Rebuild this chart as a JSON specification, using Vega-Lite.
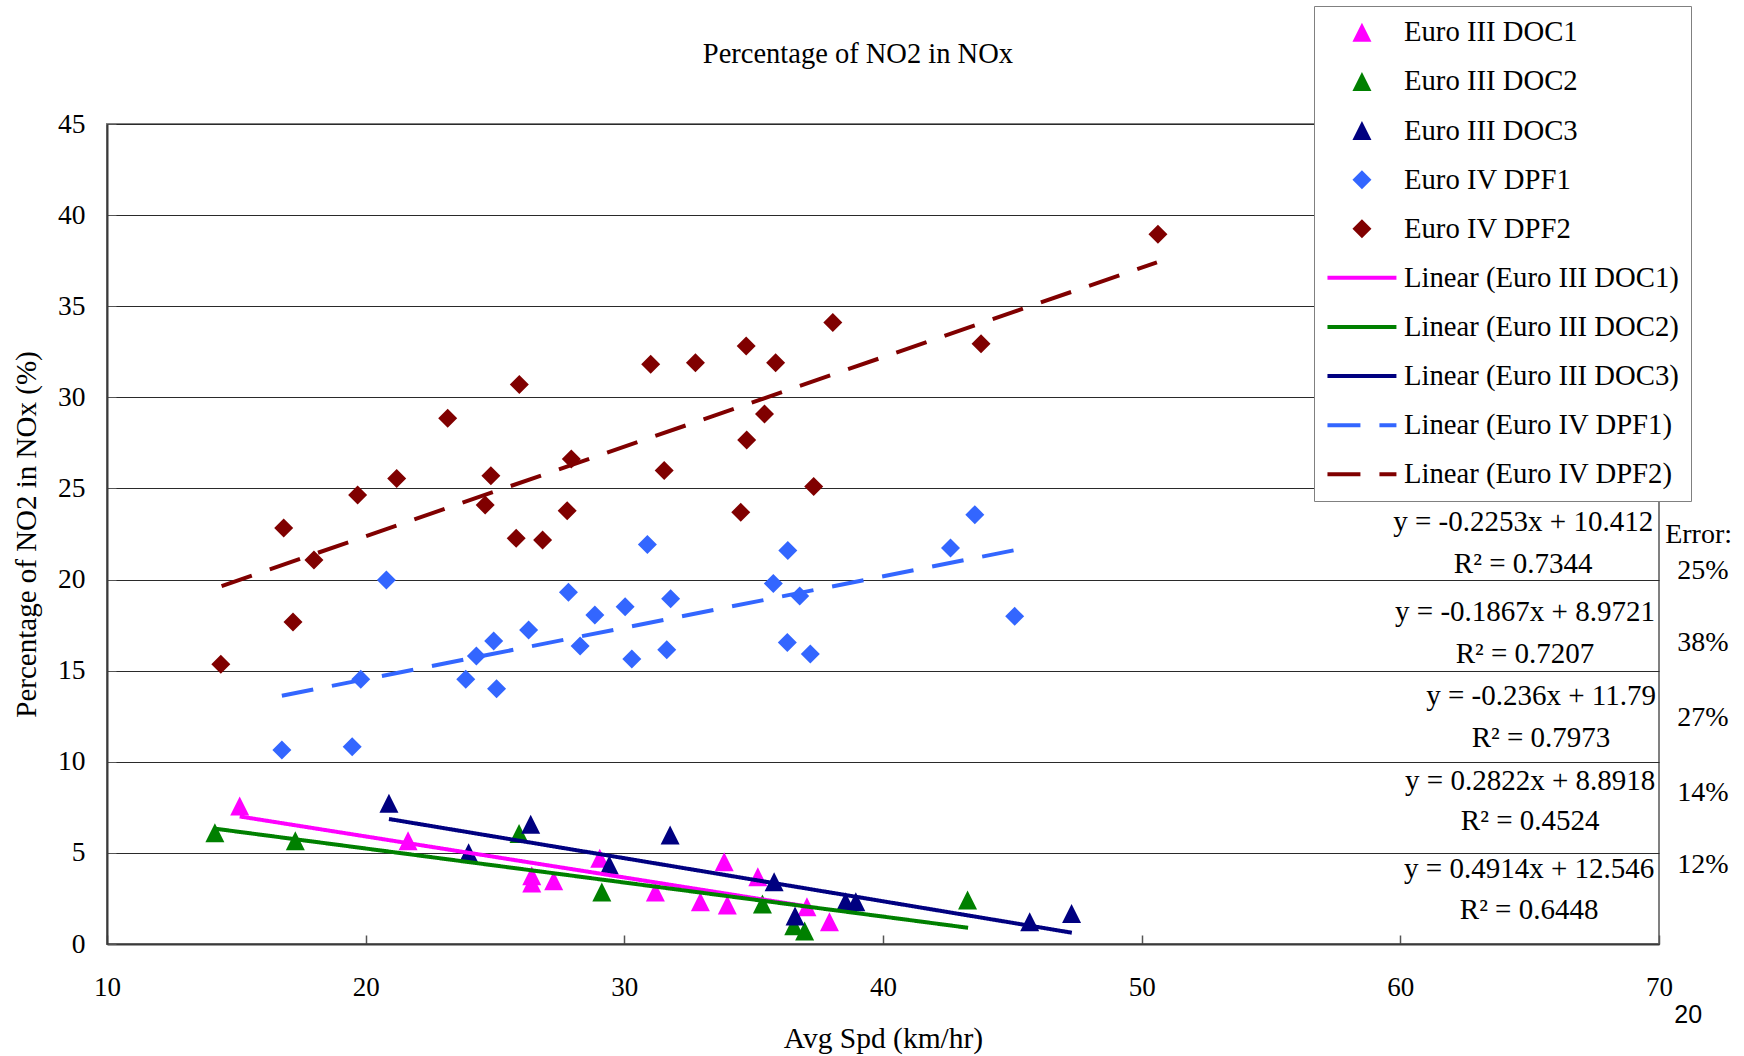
{
  "$schema": "https://vega.github.io/schema/vega-lite/v6.json",
  "width": 1552,
  "height": 820,
  "autosize": {"type": "none"},
  "padding": {"left": 107, "top": 124, "right": 85, "bottom": 112},
  "background": "white",
  "config": {
    "view": {"stroke": "#808080", "strokeWidth": 2},
    "font": "Liberation Serif",
    "legend": {
      "orient": "none",
      "legendX": 1207,
      "legendY": -118,
      "direction": "vertical",
      "fillColor": "white",
      "strokeColor": "#808080",
      "padding": 12,
      "rowPadding": 19.1,
      "labelFont": "Liberation Serif",
      "labelFontSize": 28.7,
      "labelColor": "black",
      "labelLimit": 500,
      "labelOffset": 27.7,
      "symbolOffset": 21.6,
      "symbolSize": 361,
      "symbolStrokeWidth": 0,
      "symbolOpacity": 1
    }
  },
  "datasets": {
    "points": [
      {"series": "Euro III DOC1", "spd": 15.13, "pct": 7.57},
      {"series": "Euro III DOC1", "spd": 21.64, "pct": 5.67},
      {"series": "Euro III DOC1", "spd": 26.42, "pct": 3.75},
      {"series": "Euro III DOC1", "spd": 26.42, "pct": 3.35},
      {"series": "Euro III DOC1", "spd": 27.27, "pct": 3.47},
      {"series": "Euro III DOC1", "spd": 29.05, "pct": 4.7},
      {"series": "Euro III DOC1", "spd": 31.2, "pct": 2.85},
      {"series": "Euro III DOC1", "spd": 32.94, "pct": 2.32},
      {"series": "Euro III DOC1", "spd": 33.86, "pct": 4.52},
      {"series": "Euro III DOC1", "spd": 33.98, "pct": 2.14},
      {"series": "Euro III DOC1", "spd": 35.16, "pct": 3.69},
      {"series": "Euro III DOC1", "spd": 37.06, "pct": 2.05},
      {"series": "Euro III DOC1", "spd": 37.93, "pct": 1.22},
      {"series": "Euro III DOC2", "spd": 14.17, "pct": 6.1},
      {"series": "Euro III DOC2", "spd": 17.28, "pct": 5.67},
      {"series": "Euro III DOC2", "spd": 25.93, "pct": 6.07},
      {"series": "Euro III DOC2", "spd": 29.13, "pct": 2.85},
      {"series": "Euro III DOC2", "spd": 35.34, "pct": 2.2},
      {"series": "Euro III DOC2", "spd": 36.55, "pct": 1.0},
      {"series": "Euro III DOC2", "spd": 36.97, "pct": 0.72},
      {"series": "Euro III DOC2", "spd": 43.27, "pct": 2.41},
      {"series": "Euro III DOC3", "spd": 20.9, "pct": 7.72},
      {"series": "Euro III DOC3", "spd": 23.98, "pct": 5.01},
      {"series": "Euro III DOC3", "spd": 26.38, "pct": 6.57},
      {"series": "Euro III DOC3", "spd": 29.42, "pct": 4.34},
      {"series": "Euro III DOC3", "spd": 31.77, "pct": 5.98},
      {"series": "Euro III DOC3", "spd": 35.79, "pct": 3.42},
      {"series": "Euro III DOC3", "spd": 36.6, "pct": 1.54},
      {"series": "Euro III DOC3", "spd": 38.55, "pct": 2.32},
      {"series": "Euro III DOC3", "spd": 38.95, "pct": 2.32},
      {"series": "Euro III DOC3", "spd": 45.67, "pct": 1.22},
      {"series": "Euro III DOC3", "spd": 47.29, "pct": 1.68},
      {"series": "Euro IV DPF1", "spd": 16.76, "pct": 10.65},
      {"series": "Euro IV DPF1", "spd": 19.48, "pct": 10.83},
      {"series": "Euro IV DPF1", "spd": 19.81, "pct": 14.53},
      {"series": "Euro IV DPF1", "spd": 20.8, "pct": 19.98},
      {"series": "Euro IV DPF1", "spd": 23.87, "pct": 14.53},
      {"series": "Euro IV DPF1", "spd": 24.28, "pct": 15.81},
      {"series": "Euro IV DPF1", "spd": 24.95, "pct": 16.63},
      {"series": "Euro IV DPF1", "spd": 25.06, "pct": 14.01},
      {"series": "Euro IV DPF1", "spd": 26.3, "pct": 17.23},
      {"series": "Euro IV DPF1", "spd": 27.84, "pct": 19.3},
      {"series": "Euro IV DPF1", "spd": 28.29, "pct": 16.35},
      {"series": "Euro IV DPF1", "spd": 28.86, "pct": 18.06},
      {"series": "Euro IV DPF1", "spd": 30.03, "pct": 18.51},
      {"series": "Euro IV DPF1", "spd": 30.29, "pct": 15.64},
      {"series": "Euro IV DPF1", "spd": 30.89, "pct": 21.93},
      {"series": "Euro IV DPF1", "spd": 31.64, "pct": 16.15},
      {"series": "Euro IV DPF1", "spd": 31.79, "pct": 18.95},
      {"series": "Euro IV DPF1", "spd": 35.76, "pct": 19.79},
      {"series": "Euro IV DPF1", "spd": 36.3, "pct": 16.54},
      {"series": "Euro IV DPF1", "spd": 36.32, "pct": 21.6},
      {"series": "Euro IV DPF1", "spd": 36.78, "pct": 19.1},
      {"series": "Euro IV DPF1", "spd": 37.19, "pct": 15.92},
      {"series": "Euro IV DPF1", "spd": 42.61, "pct": 21.73},
      {"series": "Euro IV DPF1", "spd": 43.55, "pct": 23.56},
      {"series": "Euro IV DPF1", "spd": 45.09, "pct": 17.98},
      {"series": "Euro IV DPF2", "spd": 14.4, "pct": 15.35},
      {"series": "Euro IV DPF2", "spd": 16.83, "pct": 22.83},
      {"series": "Euro IV DPF2", "spd": 17.19, "pct": 17.67},
      {"series": "Euro IV DPF2", "spd": 18.0, "pct": 21.07},
      {"series": "Euro IV DPF2", "spd": 19.69, "pct": 24.64},
      {"series": "Euro IV DPF2", "spd": 21.2, "pct": 25.55},
      {"series": "Euro IV DPF2", "spd": 23.17, "pct": 28.85},
      {"series": "Euro IV DPF2", "spd": 24.62, "pct": 24.09},
      {"series": "Euro IV DPF2", "spd": 24.84, "pct": 25.7},
      {"series": "Euro IV DPF2", "spd": 25.82, "pct": 22.26},
      {"series": "Euro IV DPF2", "spd": 25.94, "pct": 30.71},
      {"series": "Euro IV DPF2", "spd": 26.84, "pct": 22.17},
      {"series": "Euro IV DPF2", "spd": 27.79, "pct": 23.78},
      {"series": "Euro IV DPF2", "spd": 27.95, "pct": 26.62},
      {"series": "Euro IV DPF2", "spd": 31.02, "pct": 31.81},
      {"series": "Euro IV DPF2", "spd": 31.54, "pct": 25.98},
      {"series": "Euro IV DPF2", "spd": 32.75, "pct": 31.9},
      {"series": "Euro IV DPF2", "spd": 34.5, "pct": 23.69},
      {"series": "Euro IV DPF2", "spd": 34.71, "pct": 32.82},
      {"series": "Euro IV DPF2", "spd": 34.73, "pct": 27.66},
      {"series": "Euro IV DPF2", "spd": 35.42, "pct": 29.09},
      {"series": "Euro IV DPF2", "spd": 35.85, "pct": 31.9},
      {"series": "Euro IV DPF2", "spd": 37.32, "pct": 25.1},
      {"series": "Euro IV DPF2", "spd": 38.06, "pct": 34.1},
      {"series": "Euro IV DPF2", "spd": 43.79, "pct": 32.94},
      {"series": "Euro IV DPF2", "spd": 50.63, "pct": 38.95}
    ],
    "trends": [
      {"series": "Linear (Euro III DOC1)", "spd": 15.13, "pct": 7.0},
      {"series": "Linear (Euro III DOC1)", "spd": 37.2, "pct": 2.03},
      {"series": "Linear (Euro III DOC2)", "spd": 14.17, "pct": 6.33},
      {"series": "Linear (Euro III DOC2)", "spd": 43.29, "pct": 0.89},
      {"series": "Linear (Euro III DOC3)", "spd": 20.9, "pct": 6.86},
      {"series": "Linear (Euro III DOC3)", "spd": 47.3, "pct": 0.62},
      {"series": "Linear (Euro IV DPF1)", "spd": 16.76, "pct": 13.62},
      {"series": "Linear (Euro IV DPF1)", "spd": 45.08, "pct": 21.61},
      {"series": "Linear (Euro IV DPF2)", "spd": 14.43, "pct": 19.64},
      {"series": "Linear (Euro IV DPF2)", "spd": 50.59, "pct": 37.41}
    ],
    "heading": [
      {"spd": 39.03, "pct": 48.37, "note": "Percentage of NO2 in NOx"}
    ],
    "equations": [
      {"spd": 64.75, "pct": 23.15, "note": "y = -0.2253x + 10.412"},
      {"spd": 64.75, "pct": 20.84, "note": "R² = 0.7344"},
      {"spd": 64.82, "pct": 18.21, "note": "y = -0.1867x + 8.9721"},
      {"spd": 64.82, "pct": 15.89, "note": "R² = 0.7207"},
      {"spd": 65.44, "pct": 13.61, "note": "y = -0.236x + 11.79"},
      {"spd": 65.44, "pct": 11.31, "note": "R² = 0.7973"},
      {"spd": 65.02, "pct": 8.97, "note": "y = 0.2822x + 8.8918"},
      {"spd": 65.02, "pct": 6.75, "note": "R² = 0.4524"},
      {"spd": 64.98, "pct": 4.14, "note": "y = 0.4914x + 12.546"},
      {"spd": 64.98, "pct": 1.87, "note": "R² = 0.6448"}
    ],
    "errors": [
      {"spd": 71.53, "pct": 22.42, "note": "Error:"},
      {"spd": 71.7, "pct": 20.45, "note": "25%"},
      {"spd": 71.7, "pct": 16.5, "note": "38%"},
      {"spd": 71.7, "pct": 12.4, "note": "27%"},
      {"spd": 71.7, "pct": 8.31, "note": "14%"},
      {"spd": 71.7, "pct": 4.35, "note": "12%"}
    ],
    "page": [
      {"spd": 71.13, "pct": -3.9, "note": "20"}
    ]
  },
  "encoding": {
    "x": {
      "field": "spd",
      "type": "quantitative",
      "scale": {"domain": [10, 70], "nice": false, "zero": false},
      "axis": {
        "title": "Avg Spd (km/hr)",
        "values": [10, 20, 30, 40, 50, 60, 70],
        "grid": false,
        "tickSize": -9,
        "tickColor": "#555555",
        "tickWidth": 1.5,
        "domainColor": "#3a3a3a",
        "domainWidth": 2,
        "labelFont": "Liberation Serif",
        "labelFontSize": 27,
        "labelColor": "black",
        "labelPadding": 39,
        "labelFlush": false,
        "titleFont": "Liberation Serif",
        "titleFontSize": 29.5,
        "titleFontWeight": "normal",
        "titleColor": "black",
        "titlePadding": 24
      }
    },
    "y": {
      "field": "pct",
      "type": "quantitative",
      "scale": {"domain": [0, 45], "nice": false, "zero": false},
      "axis": {
        "title": "Percentage of NO2 in NOx (%)",
        "values": [0, 5, 10, 15, 20, 25, 30, 35, 40, 45],
        "grid": true,
        "gridColor": "#2a2a2a",
        "gridWidth": 1,
        "gridOpacity": 1,
        "tickSize": -9,
        "tickColor": "#555555",
        "domainColor": "#3a3a3a",
        "domainWidth": 2,
        "labelFont": "Liberation Serif",
        "labelFontSize": 27.5,
        "labelColor": "black",
        "labelPadding": 31,
        "labelFlush": false,
        "titleFont": "Liberation Serif",
        "titleFontSize": 29,
        "titleFontWeight": "normal",
        "titleColor": "black",
        "titlePadding": 16
      }
    }
  },
  "layer": [
    {
      "data": {"name": "points"},
      "mark": {"type": "point", "filled": true, "opacity": 1, "size": 361, "strokeWidth": 0},
      "encoding": {
        "color": {
          "field": "series",
          "type": "nominal",
          "scale": {
            "domain": ["Euro III DOC1", "Euro III DOC2", "Euro III DOC3", "Euro IV DPF1", "Euro IV DPF2", "Linear (Euro III DOC1)", "Linear (Euro III DOC2)", "Linear (Euro III DOC3)", "Linear (Euro IV DPF1)", "Linear (Euro IV DPF2)"],
            "range": ["#FF00FF", "#008000", "#000080", "#3366FF", "#800000", "#FF00FF", "#008000", "#000080", "#3366FF", "#800000"]
          },
          "legend": {"title": null}
        },
        "shape": {
          "field": "series",
          "type": "nominal",
          "scale": {
            "domain": ["Euro III DOC1", "Euro III DOC2", "Euro III DOC3", "Euro IV DPF1", "Euro IV DPF2", "Linear (Euro III DOC1)", "Linear (Euro III DOC2)", "Linear (Euro III DOC3)", "Linear (Euro IV DPF1)", "Linear (Euro IV DPF2)"],
            "range": ["M0,-1L1,1L-1,1Z", "M0,-1L1,1L-1,1Z", "M0,-1L1,1L-1,1Z", "diamond", "diamond", "M-3.63,-0.21H3.63V0.21H-3.63Z", "M-3.63,-0.21H3.63V0.21H-3.63Z", "M-3.63,-0.21H3.63V0.21H-3.63Z", "M-3.63,-0.21H-0.16V0.21H-3.63ZM1.84,-0.21H3.63V0.21H1.84Z", "M-3.63,-0.21H-0.16V0.21H-3.63ZM1.84,-0.21H3.63V0.21H1.84Z"]
          },
          "legend": {"title": null}
        }
      }
    },
    {
      "data": {"name": "trends"},
      "mark": {"type": "line", "strokeWidth": 4, "strokeCap": "butt"},
      "encoding": {
        "color": {"field": "series", "type": "nominal", "legend": {"title": null}},
        "strokeDash": {
          "field": "series",
          "type": "nominal",
          "scale": {
            "domain": ["Euro III DOC1", "Euro III DOC2", "Euro III DOC3", "Euro IV DPF1", "Euro IV DPF2", "Linear (Euro III DOC1)", "Linear (Euro III DOC2)", "Linear (Euro III DOC3)", "Linear (Euro IV DPF1)", "Linear (Euro IV DPF2)"],
            "range": [[1, 0], [1, 0], [1, 0], [1, 0], [1, 0], [1, 0], [1, 0], [1, 0], [32, 19], [32, 19]]
          },
          "legend": {"title": null}
        }
      }
    },
    {
      "data": {"name": "heading"},
      "mark": {"type": "text", "font": "Liberation Serif", "fontSize": 28.5, "align": "center", "baseline": "alphabetic", "color": "black"},
      "encoding": {"text": {"field": "note", "type": "nominal"}}
    },
    {
      "data": {"name": "equations"},
      "mark": {"type": "text", "font": "Liberation Serif", "fontSize": 29, "align": "center", "baseline": "middle", "color": "black"},
      "encoding": {"text": {"field": "note", "type": "nominal"}}
    },
    {
      "data": {"name": "errors"},
      "mark": {"type": "text", "font": "Liberation Serif", "fontSize": 28, "align": "center", "baseline": "middle", "color": "black"},
      "encoding": {"text": {"field": "note", "type": "nominal"}}
    },
    {
      "data": {"name": "page"},
      "mark": {"type": "text", "font": "Liberation Sans", "fontSize": 25, "align": "center", "baseline": "middle", "color": "black"},
      "encoding": {"text": {"field": "note", "type": "nominal"}}
    }
  ]
}
